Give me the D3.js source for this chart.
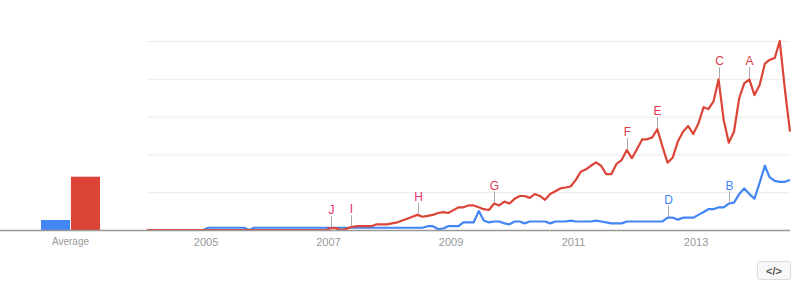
<!DOCTYPE html>
<html>
<head>
<meta charset="utf-8">
<script src="https://cdn.jsdelivr.net/npm/d3@7"></script>
<style>
    body { margin: 0; background: #fff; }
    #chart { width: 808px; height: 291px; }
    text { font-family: Arial, "Liberation Sans", sans-serif; }
</style>
</head>
<body>
<div id="chart"></div>
<script>

    // monthly values, Jan 2004 .. Jul 2014
    var startYear = 2004;

    var redValues = [
        0,0,0,0,0,0,0,0,0,0,0,0,
        0,0,0,0,0,0,0,0,0,0,0,0,
        0,0,0,0,0,0,0,0,0,0,0,0,
        1,1,0,0.5,1.5,2,2,2,2,3,3,3,
        3.5,4,5,6,7,8,7,7.5,8,9,9.5,9,
        10.5,12,12,13,13,12,11,10.6,14,13,15,14,
        16.5,18,18,17,19,18,16,19,20.5,22,22.5,23,
        26.5,31,32,34,35.8,34,29.6,29.6,35,37,42.3,38,
        42.9,48,48,49,53.3,44,35.6,38.4,47,52,55,50.8,
        56.4,65,64,68,79.7,58,46.2,52,69.7,77.6,79.7,71.4,
        76.7,88,90,91,100,74,52
    ];

    var blueValues = [
        0,0,0,0,0,0,0,0,0,0,0,0,
        1.2,1.2,1.2,1.2,1.2,1.2,1.2,1.2,0,1.2,1.2,1.2,
        1.2,1.2,1.2,1.2,1.2,1.2,1.2,1.2,1.2,1.2,1.2,1.2,
        1.2,1.2,1.2,1.2,1.2,1.2,1.2,1.2,1.2,1.2,1.2,1.2,
        1.2,1.2,1.2,1.2,1.2,1.2,1.2,2,2,0.5,0.8,2,
        2,2,4,4,4,10,5,4,4.5,4.5,3.5,3,
        4.5,4.5,3.5,4.5,4.5,4.5,4.5,3.5,4.5,4.5,4.5,5,
        4.5,4.5,4.5,4.5,5,4.5,4,3.5,3.5,3.5,4.5,4.5,
        4.5,4.5,4.5,4.5,4.5,4.5,6.5,6.5,5.5,6.5,6.5,6.5,
        8,9.5,11,11,12,12,14,14.5,19,22,19,16.5,
        25,34,28,26,25.5,25.5,26.5
    ];

    var averages = [
        { series: "blue", value: 5.3 },
        { series: "red", value: 28.2 }
    ];

    var annotations = [
        { letter: "A", series: "red", month: "2013-11" },
        { letter: "B", series: "blue", month: "2013-07" },
        { letter: "C", series: "red", month: "2013-05" },
        { letter: "D", series: "blue", month: "2012-07" },
        { letter: "E", series: "red", month: "2012-05" },
        { letter: "F", series: "red", month: "2011-11" },
        { letter: "G", series: "red", month: "2009-09" },
        { letter: "H", series: "red", month: "2008-06" },
        { letter: "I", series: "red", month: "2007-05" },
        { letter: "J", series: "red", month: "2007-01" }
    ];

    var yearTicks = [2005, 2007, 2009, 2011, 2013];
    var gridValues = [20, 40, 60, 80, 100];

    var colors = { blue: "#4285f4", red: "#db4437" };
    var letterColors = { blue: "#4285f4", red: "#de3a4e", early: "#e3336b" };


    function monthDate(i) {
        return new Date(startYear, i, 15);
    }

    var series = {
        red: redValues.map(function(v, i) { return { date: monthDate(i), value: v }; }),
        blue: blueValues.map(function(v, i) { return { date: monthDate(i), value: v }; })
    };


    var width = 808;
    var height = 291;
    var svg = d3.select("#chart")
        .append("svg")
        .attr("width", width)
        .attr("height", height);


    var xScale = d3.scaleTime()
        .domain([monthDate(0), monthDate(redValues.length - 1)])
        .range([147, 790]);

    var yScale = d3.scaleLinear()
        .domain([0, 100])
        .range([230, 41]);


    // gridlines
    svg.selectAll("line.grid")
        .data(gridValues)
        .enter()
        .append("line")
            .attr("class", "grid")
            .attr("x1", 147)
            .attr("x2", 790)
            .attr("y1", function(d) { return yScale(d) + 0.5; })
            .attr("y2", function(d) { return yScale(d) + 0.5; })
            .attr("stroke", "#ebebeb")
            .attr("stroke-width", 1);


    // average bars
    var barScale = d3.scaleBand()
        .domain(averages.map(function(d) { return d.series; }))
        .range([41, 100])
        .paddingInner(0.03);

    svg.selectAll("rect.avg")
        .data(averages)
        .enter()
        .append("rect")
            .attr("class", "avg")
            .attr("x", function(d) { return barScale(d.series); })
            .attr("y", function(d) { return yScale(d.value); })
            .attr("width", barScale.bandwidth())
            .attr("height", function(d) { return yScale(0) - yScale(d.value); })
            .attr("fill", function(d) { return colors[d.series]; });

    svg.append("text")
        .attr("x", (barScale.range()[0] + barScale.range()[1]) / 2)
        .attr("y", 245)
        .attr("text-anchor", "middle")
        .attr("font-size", "10px")
        .attr("fill", "#999")
        .text("Average");


    // lines
    var line = d3.line()
        .x(function(d) { return xScale(d.date); })
        .y(function(d) { return yScale(d.value); });

    ["blue", "red"].forEach(function(key) {
        svg.append("path")
            .datum(series[key])
            .attr("fill", "none")
            .attr("stroke", colors[key])
            .attr("stroke-width", 2.2)
            .attr("stroke-linejoin", "round")
            .attr("d", line);
    });


    // baseline
    svg.append("line")
        .attr("x1", 0)
        .attr("x2", 790)
        .attr("y1", yScale(0) + 0.5)
        .attr("y2", yScale(0) + 0.5)
        .attr("stroke", "#999")
        .attr("stroke-width", 1.3);


    // year labels
    svg.selectAll("text.year")
        .data(yearTicks)
        .enter()
        .append("text")
            .attr("class", "year")
            .attr("x", function(d) { return xScale(new Date(d, 0, 1)); })
            .attr("y", 246)
            .attr("text-anchor", "middle")
            .attr("font-size", "11px")
            .attr("fill", "#999")
            .text(function(d) { return d; });


    // annotations
    var parseMonth = d3.timeParse("%Y-%m");

    annotations.forEach(function(a) {
        var m = parseMonth(a.month);
        var idx = (m.getFullYear() - startYear) * 12 + m.getMonth();
        var pt = series[a.series][idx];
        var px = Math.round(xScale(pt.date)) + 0.5;
        var py = yScale(pt.value);
        var early = m.getFullYear() < 2009;

        svg.append("line")
            .attr("x1", px)
            .attr("x2", px)
            .attr("y1", py - 1)
            .attr("y2", py - 12)
            .attr("stroke", "#aaa")
            .attr("stroke-width", 1);

        svg.append("text")
            .attr("x", px)
            .attr("y", py - 14)
            .attr("text-anchor", "middle")
            .attr("font-size", "12px")
            .attr("fill", a.series == "blue" ? letterColors.blue : (early ? letterColors.early : letterColors.red))
            .text(a.letter);
    });


    // embed button
    var btn = svg.append("g")
        .attr("transform", "translate(757,261)");

    btn.append("rect")
        .attr("x", 0.5)
        .attr("y", 0.5)
        .attr("width", 33)
        .attr("height", 18)
        .attr("rx", 2)
        .attr("fill", "#f8f8f8")
        .attr("stroke", "#dcdcdc");

    btn.append("text")
        .attr("x", 17)
        .attr("y", 13.5)
        .attr("text-anchor", "middle")
        .attr("font-size", "11px")
        .attr("font-weight", "bold")
        .attr("fill", "#555")
        .text("</>");

</script>
</body>
</html>
